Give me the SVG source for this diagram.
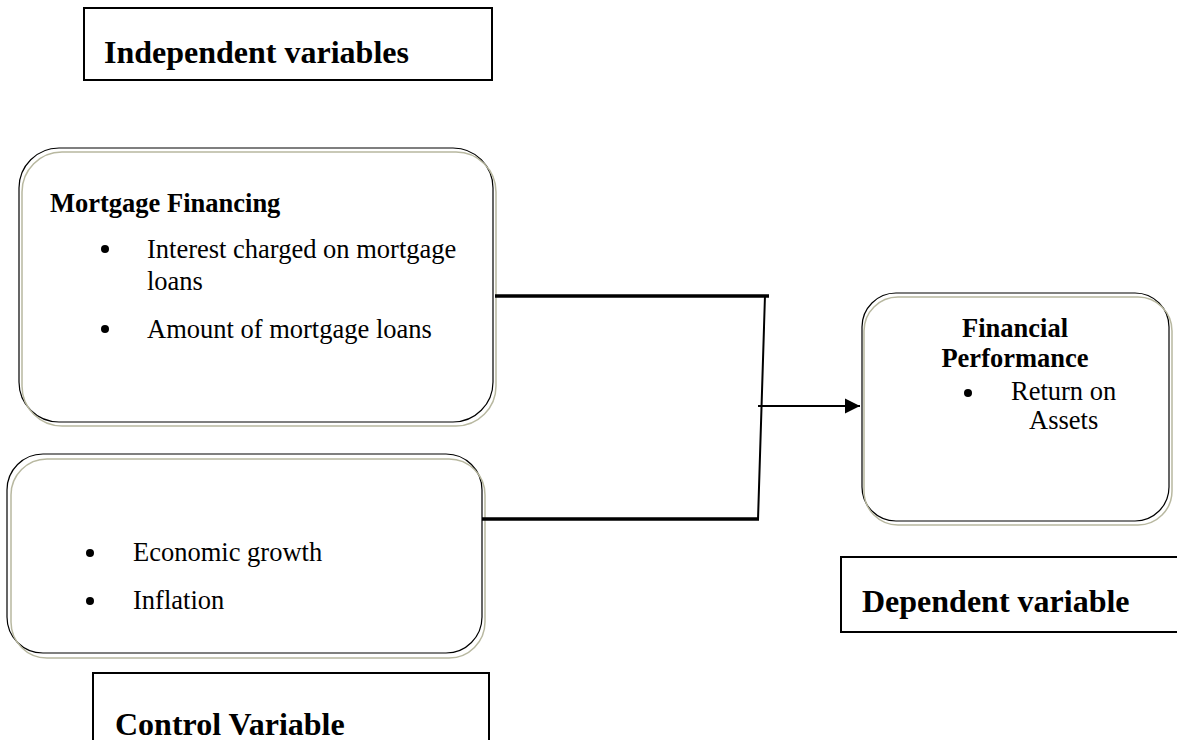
<svg xmlns="http://www.w3.org/2000/svg" width="1177" height="740" viewBox="0 0 1177 740">
<style>
text{font-family:"Liberation Serif","Times New Roman",serif;fill:#000}
.h{font-size:32px;font-weight:bold}
.b{font-size:26.5px;font-weight:bold}
.r{font-size:26.5px}
.lab{fill:#fff;stroke:#000;stroke-width:2}
.rb{fill:#fff;stroke:#000;stroke-width:1.2}
.sh{fill:none;stroke:#b8b8a0;stroke-width:1.5}
.con{stroke:#000;fill:none}
</style>
<defs>
<marker id="ah" markerWidth="16" markerHeight="16" refX="15" refY="8" orient="auto" markerUnits="userSpaceOnUse">
<path d="M0,0.5 L15,8 L0,15.5 Z" fill="#000"/>
</marker>
</defs>
<rect width="1177" height="740" fill="#fff"/>

<g id="independent-label">
<rect class="lab" x="84" y="8" width="408" height="72"/>
<text class="h" x="104" y="63">Independent variables</text>
</g>

<g id="mortgage-financing">
<rect class="rb" x="19" y="148" width="474" height="274" rx="40" ry="40"/>
<rect class="sh" x="22" y="152" width="474" height="274" rx="40" ry="40"/>
<text class="b" x="50" y="212">Mortgage Financing</text>
<circle cx="105" cy="249" r="4"/>
<text class="r" x="147" y="258">Interest charged on mortgage</text>
<text class="r" x="147" y="290">loans</text>
<circle cx="105" cy="329" r="4"/>
<text class="r" x="147" y="338">Amount of mortgage loans</text>
</g>

<g id="control-variables">
<rect class="rb" x="7" y="454" width="475" height="199" rx="36" ry="36"/>
<rect class="sh" x="11" y="459" width="474" height="199" rx="36" ry="36"/>
<circle cx="90" cy="553" r="4"/>
<text class="r" x="133" y="561">Economic growth</text>
<circle cx="90" cy="601" r="4"/>
<text class="r" x="133" y="609">Inflation</text>
</g>

<g id="control-label">
<rect class="lab" x="93" y="673" width="396" height="80"/>
<text class="h" x="115" y="735">Control Variable</text>
</g>

<g id="financial-performance">
<rect class="rb" x="862" y="293" width="307" height="228" rx="34" ry="34"/>
<rect class="sh" x="864" y="297" width="308" height="228" rx="34" ry="34"/>
<text class="b" x="1015" y="337" text-anchor="middle">Financial</text>
<text class="b" x="1015" y="367" text-anchor="middle">Performance</text>
<circle cx="968" cy="393" r="4"/>
<text class="r" x="1011" y="400">Return on</text>
<text class="r" x="1029" y="429">Assets</text>
</g>

<g id="dependent-label">
<rect class="lab" x="841" y="557" width="346" height="75"/>
<text class="h" x="862" y="612">Dependent variable</text>
</g>

<g id="connectors">
<line class="con" x1="495" y1="296" x2="769" y2="296" stroke-width="3.5"/>
<line class="con" x1="482" y1="519" x2="759" y2="519" stroke-width="3.5"/>
<line class="con" x1="765" y1="295" x2="758" y2="520" stroke-width="2"/>
<line class="con" x1="758" y1="406" x2="860" y2="406" stroke-width="2.2" marker-end="url(#ah)"/>
</g>
</svg>
